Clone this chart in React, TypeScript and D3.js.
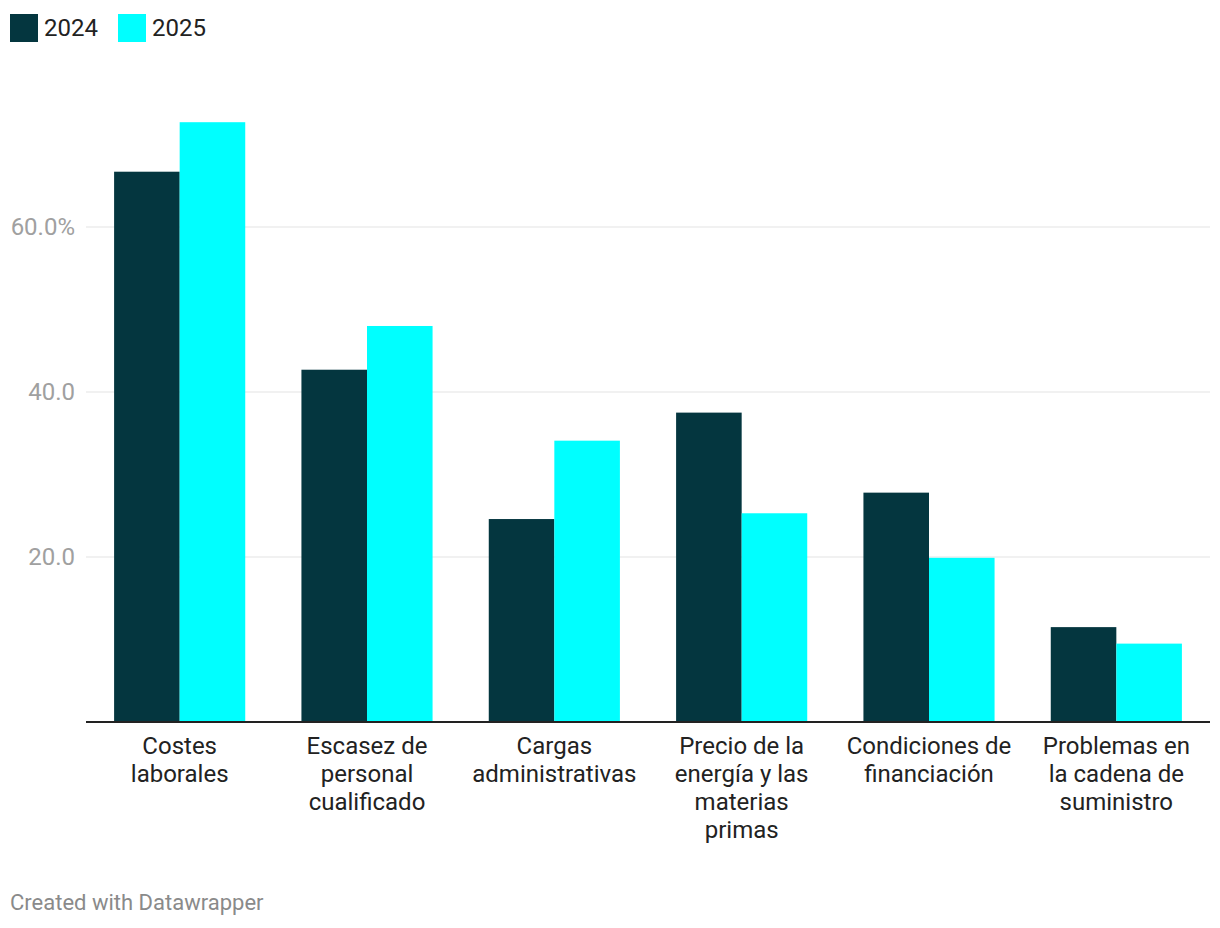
import React from "react";
import * as d3 from "d3";

const categories = [
  ["Costes", "laborales"],
  ["Escasez de", "personal", "cualificado"],
  ["Cargas", "administrativas"],
  ["Precio de la", "energía y las", "materias", "primas"],
  ["Condiciones de", "financiación"],
  ["Problemas en", "la cadena de", "suministro"],
];
const series = ["2024", "2025"];
const values2024 = [66.7, 42.7, 24.6, 37.5, 27.8, 11.5];
const values2025 = [72.7, 48.0, 34.1, 25.3, 19.9, 9.5];
const yTicks = [20, 40, 60];
const colors = ["#04363f", "#00ffff"];

export default function App() {
  const W = 1220, H = 928;
  const left = 86, right = 1210, top = 60, bottom = 722;
  const y = d3.scaleLinear().domain([0, 80.24]).range([bottom, top]);
  const x0 = d3.scaleBand<number>().domain(d3.range(categories.length)).range([left, right]).paddingInner(0.3).paddingOuter(0.15);
  const x1 = d3.scaleBand<string>().domain(series).range([0, x0.bandwidth()]);
  const data = [values2024, values2025];
  const font = "Roboto, sans-serif";
  return (
    <svg width={W} height={H} style={{ position: "absolute", left: 0, top: 0, background: "#fff" }} fontFamily={font}>
      {series.map((s, i) => (
        <g key={s} transform={`translate(${10 + i * 108},14)`}>
          <rect width={28} height={28} fill={colors[i]} />
          <text x={34} y={14} dy="0.35em" fontSize={24} fill="#222">{s}</text>
        </g>
      ))}
      {yTicks.map((t) => (
        <g key={t}>
          <line x1={left} x2={right} y1={y(t)} y2={y(t)} stroke="#e3e3e3" strokeWidth={1} />
          <text x={75} y={y(t)} dy="0.35em" textAnchor="end" fontSize={24} fill="#a0a0a0">
            {t === 60 ? `${t.toFixed(1)}%` : t.toFixed(1)}
          </text>
        </g>
      ))}
      {categories.map((c, ci) => (
        <g key={ci} transform={`translate(${x0(ci)},0)`}>
          {series.map((s, si) => (
            <rect key={s} x={x1(s)} y={y(data[si][ci])} width={x1.bandwidth()} height={bottom - y(data[si][ci])} fill={colors[si]} />
          ))}
        </g>
      ))}
      <line x1={left} x2={right} y1={bottom} y2={bottom} stroke="#222" strokeWidth={2} />
      {categories.map((lines, ci) => (
        <text key={ci} x={(x0(ci) as number) + x0.bandwidth() / 2} y={746} dy="0.35em" textAnchor="middle" fontSize={24} fill="#222">
          {lines.map((l, li) => (
            <tspan key={li} x={(x0(ci) as number) + x0.bandwidth() / 2} dy={li === 0 ? "0.35em" : 28}>{l}</tspan>
          ))}
        </text>
      ))}
      <text x={10} y={902} dy="0.35em" fontSize={22} fill="#8a8a8a">Created with Datawrapper</text>
    </svg>
  );
}
